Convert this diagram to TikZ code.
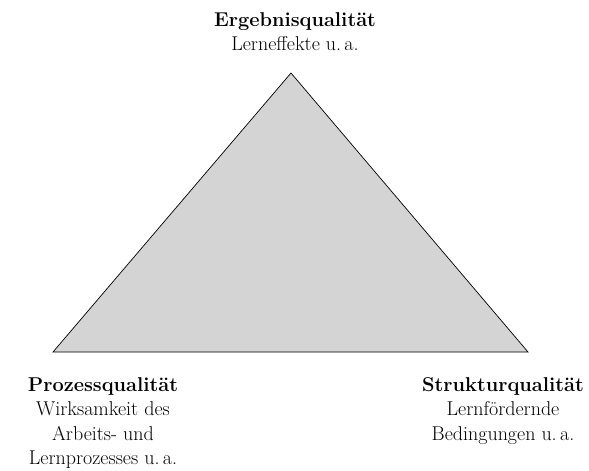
\documentclass[tikz,border=0pt]{standalone}
\usepackage{fontspec}
\begin{document}
\begin{tikzpicture}[x=1pt,y=-1pt,
  lbl/.style={align=center,anchor=north,inner sep=0pt,font=\fontsize{20}{24.5}\selectfont}]
\useasboundingbox (0,0) rectangle (589,471);
\coordinate (A) at (291,73);
\coordinate (L) at (53,352);
\coordinate (R) at (528,352);
\filldraw[fill=black!17,draw=black,line width=0.7pt,line join=miter] (A) -- (L) -- (R) -- cycle;
\node[lbl] (top) at (295,12) {\textbf{Ergebnisqualität}\\Lerneffekte u.\,a.};
\node[lbl] (left) at (103,377) {\textbf{Prozessqualität}\\Wirksamkeit des\\Arbeits- und\\Lernprozesses u.\,a.};
\node[lbl] (right) at (503,377) {\textbf{Strukturqualität}\\Lernfördernde\\Bedingungen u.\,a.};
\end{tikzpicture}
\end{document}
